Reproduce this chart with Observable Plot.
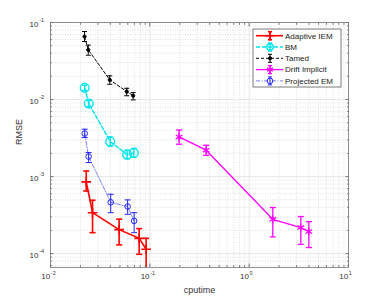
<!DOCTYPE html>
<html>
<head>
<meta charset="utf-8">
<script src="https://cdn.jsdelivr.net/npm/d3@7"></script>
<script src="https://cdn.jsdelivr.net/npm/@observablehq/plot@0.6"></script>
<style>
  html, body { margin: 0; padding: 0; background: #fff; }
  #wrap { position: relative; width: 385px; height: 300px; font-family: "Liberation Sans", Arial, sans-serif; }
  #legend { position: absolute; left: 0; top: 0; pointer-events: none; }
</style>
</head>
<body>
<div id="wrap"><div id="chart"></div><svg id="legend" width="385" height="300"></svg></div>
<script>
// ---- data ----
const seriesNames = ["Adaptive IEM", "BM", "Tamed", "Drift Implicit", "Projected EM"];

const adaptiveX  = [0.0229, 0.0265, 0.0491, 0.0781, 0.0918];
const adaptiveY  = [0.000853, 0.00034, 0.000205, 0.000158, 0.000114];
const adaptiveLo = [0.00065, 0.000187, 0.00013, 0.0000981, 0.00006];
const adaptiveHi = [0.00118, 0.000493, 0.00028, 0.000211, 0.000158];

const bmX  = [0.0221, 0.0243, 0.0399, 0.0591, 0.069];
const bmY  = [0.0142, 0.00887, 0.00285, 0.00193, 0.00203];
const bmLo = [0.0131, 0.0081, 0.00247, 0.0017, 0.00178];
const bmHi = [0.0153, 0.0097, 0.00327, 0.0022, 0.00232];

const tamedX  = [0.022, 0.024, 0.0395, 0.0586, 0.068];
const tamedY  = [0.0658, 0.0442, 0.018, 0.0127, 0.0112];
const tamedLo = [0.0566, 0.0376, 0.0158, 0.0112, 0.0099];
const tamedHi = [0.0764, 0.0508, 0.0203, 0.014, 0.0123];

const driftX  = [0.197, 0.369, 1.73, 3.31, 3.99];
const driftY  = [0.00327, 0.0022, 0.000279, 0.000218, 0.000193];
const driftLo = [0.00263, 0.00189, 0.000165, 0.000132, 0.00012];
const driftHi = [0.00402, 0.00255, 0.000396, 0.000303, 0.00026];

const projX  = [0.0221, 0.0242, 0.0404, 0.0598, 0.0695];
const projY  = [0.00362, 0.00182, 0.000464, 0.000408, 0.000266];
const projLo = [0.00321, 0.00152, 0.00034, 0.000324, 0.000187];
const projHi = [0.00412, 0.00205, 0.00059, 0.000498, 0.00034];

const xTicks = [0.01, 0.1, 1, 10];
const xTickExp = ["-2", "-1", "0", "1"];
const yTicks = [1e-4, 1e-3, 1e-2, 1e-1];
const yTickExp = ["-4", "-3", "-2", "-1"];

// ---- styles ----
const styles = [
  {color: "#ff0000", width: 1.6, dash: null, symbol: "plus", r: 3.2, fill: "none", cap: 3},
  {color: "#00e5ee", width: 1.4, dash: "4,2", symbol: "circle", r: 4.4, fill: "none", cap: 2.5},
  {color: "#000000", width: 1.0, dash: "3,2", symbol: "circle", r: 1.6, fill: "#000", cap: 2.5},
  {color: "#ff00ff", width: 1.3, dash: null, symbol: "asterisk", r: 3.6, fill: "none", cap: 3},
  {color: "#2222ff", width: 0.6, dash: "4,1.5,1,1.5", symbol: "circle", r: 2.8, fill: "none", cap: 3}
];

const series = [
  [adaptiveX, adaptiveY, adaptiveLo, adaptiveHi],
  [bmX, bmY, bmLo, bmHi],
  [tamedX, tamedY, tamedLo, tamedHi],
  [driftX, driftY, driftLo, driftHi],
  [projX, projY, projLo, projHi]
].map((s, i) => s[0].map((x, j) => ({name: seriesNames[i], x, y: s[1][j], lo: s[2][j], hi: s[3][j]})));

// minor grid values
const minorX = [];
for (let k = -2; k <= 0; k++) for (let m = 2; m <= 9; m++) minorX.push(m * Math.pow(10, k));
const minorY = [];
for (let k = -5; k <= -2; k++) for (let m = 2; m <= 9; m++) {
  const v = m * Math.pow(10, k);
  if (v > Math.pow(10, -4.18) && v < 0.1) minorY.push(v);
}

const capSymbol = {
  draw(context, size) {
    const r = Math.sqrt(size / Math.PI);
    context.moveTo(-r, 0);
    context.lineTo(r, 0);
  }
};

const axisColor = "#777";
const textColor = "#333";

const marks = [
  Plot.frame({fill: "#fff"}),
  Plot.ruleX(minorX, {stroke: "#cfcfcf", strokeWidth: 0.6, strokeDasharray: "1,1.5"}),
  Plot.ruleY(minorY, {stroke: "#cfcfcf", strokeWidth: 0.6, strokeDasharray: "1,1.5"}),
  Plot.ruleX(xTicks, {stroke: "#e2e2e2", strokeWidth: 0.8}),
  Plot.ruleY(yTicks, {stroke: "#e2e2e2", strokeWidth: 0.8}),
];

series.forEach((data, i) => {
  const st = styles[i];
  marks.push(
    Plot.line(data, {x: "x", y: "y", stroke: st.color, strokeWidth: st.width, strokeDasharray: st.dash, clip: true}),
    Plot.ruleX(data, {x: "x", y1: "lo", y2: "hi", stroke: st.color, strokeWidth: Math.max(st.width, 1), clip: true}),
    Plot.dot(data, {x: "x", y: "lo", symbol: capSymbol, r: st.cap, stroke: st.color, strokeWidth: Math.max(st.width, 1), fill: "none", clip: true}),
    Plot.dot(data, {x: "x", y: "hi", symbol: capSymbol, r: st.cap, stroke: st.color, strokeWidth: Math.max(st.width, 1), fill: "none", clip: true}),
    Plot.dot(data, {x: "x", y: "y", symbol: st.symbol, r: st.r, stroke: st.color, strokeWidth: Math.max(st.width, 1), fill: st.fill, clip: true})
  );
});

marks.push(
  // inward ticks
  Plot.axisX(xTicks, {anchor: "bottom", tickSize: -3.5, tickFormat: () => "", stroke: axisColor, label: null}),
  Plot.axisX(xTicks, {anchor: "top", tickSize: -3.5, tickFormat: () => "", stroke: axisColor, label: null}),
  Plot.axisX(minorX, {anchor: "bottom", tickSize: -1.8, tickFormat: () => "", stroke: axisColor, label: null}),
  Plot.axisX(minorX, {anchor: "top", tickSize: -1.8, tickFormat: () => "", stroke: axisColor, label: null}),
  Plot.axisY(yTicks, {anchor: "left", tickSize: -3.5, tickFormat: () => "", stroke: axisColor, label: null}),
  Plot.axisY(yTicks, {anchor: "right", tickSize: -3.5, tickFormat: () => "", stroke: axisColor, label: null}),
  Plot.axisY(minorY, {anchor: "left", tickSize: -1.8, tickFormat: () => "", stroke: axisColor, label: null}),
  Plot.axisY(minorY, {anchor: "right", tickSize: -1.8, tickFormat: () => "", stroke: axisColor, label: null}),
  Plot.frame({stroke: axisColor, strokeWidth: 0.8}),
  // tick labels
  Plot.text(xTicks, {x: d => d, frameAnchor: "bottom", dy: 11, dx: -0.3, text: () => "10", textAnchor: "end", fontSize: 8, fill: textColor}),
  Plot.text(xTicks, {x: d => d, frameAnchor: "bottom", dy: 7, dx: 0.3, text: (d, i) => xTickExp[i], textAnchor: "start", fontSize: 5.5, fill: textColor}),
  Plot.text(yTicks, {y: d => d, frameAnchor: "left", dx: -12, dy: 2, text: () => "10", textAnchor: "end", fontSize: 8, fill: textColor}),
  Plot.text(yTicks, {y: d => d, frameAnchor: "left", dx: -11.3, dy: -2, text: (d, i) => yTickExp[i], textAnchor: "start", fontSize: 5.5, fill: textColor}),
  // axis labels
  Plot.text(["cputime"], {frameAnchor: "bottom", dy: 25.5, text: d => d, fontSize: 9, fill: textColor}),
  Plot.text(["RMSE"], {frameAnchor: "left", dx: -31, rotate: -90, text: d => d, fontSize: 9, fill: textColor})
);

const plot = Plot.plot({
  width: 385,
  height: 300,
  marginLeft: 50,
  marginRight: 37,
  marginTop: 22,
  marginBottom: 33,
  style: {background: "#fff", fontFamily: "Liberation Sans, Arial, sans-serif"},
  x: {type: "log", domain: [0.01, 10], axis: null},
  y: {type: "log", domain: [Math.pow(10, -4.18), 0.1], axis: null},
  marks
});
document.getElementById("chart").appendChild(plot);

// ---- legend ----
const lg = d3.select("#legend");
const box = {x: 253, y: 29, w: 88, h: 58};
lg.append("rect").attr("x", box.x).attr("y", box.y).attr("width", box.w).attr("height", box.h)
  .attr("fill", "#fff").attr("stroke", "#444").attr("stroke-width", 0.7);
seriesNames.forEach((name, i) => {
  const st = styles[i];
  const cy = box.y + 6.7 + i * 11.3;
  const g = lg.append("g");
  g.append("line").attr("x1", 256).attr("x2", 283).attr("y1", cy).attr("y2", cy)
    .attr("stroke", st.color).attr("stroke-width", st.width).attr("stroke-dasharray", st.dash);
  const sw = Math.max(st.width, 1);
  g.append("line").attr("x1", 270).attr("x2", 270).attr("y1", cy - 4).attr("y2", cy + 4).attr("stroke", st.color).attr("stroke-width", sw);
  g.append("line").attr("x1", 268).attr("x2", 272).attr("y1", cy - 4).attr("y2", cy - 4).attr("stroke", st.color).attr("stroke-width", sw);
  g.append("line").attr("x1", 268).attr("x2", 272).attr("y1", cy + 4).attr("y2", cy + 4).attr("stroke", st.color).attr("stroke-width", sw);
  const symMap = {plus: d3.symbolPlus, circle: d3.symbolCircle, asterisk: d3.symbolAsterisk};
  const r = Math.min(st.r, 3.2);
  g.append("path").attr("transform", `translate(270,${cy})`)
    .attr("d", d3.symbol(symMap[st.symbol], Math.PI * r * r)())
    .attr("fill", st.fill).attr("stroke", st.color).attr("stroke-width", sw);
  g.append("text").attr("x", 285).attr("y", cy).attr("dy", "0.35em")
    .attr("font-size", 8).attr("fill", "#222").text(name);
});
</script>
</body>
</html>
